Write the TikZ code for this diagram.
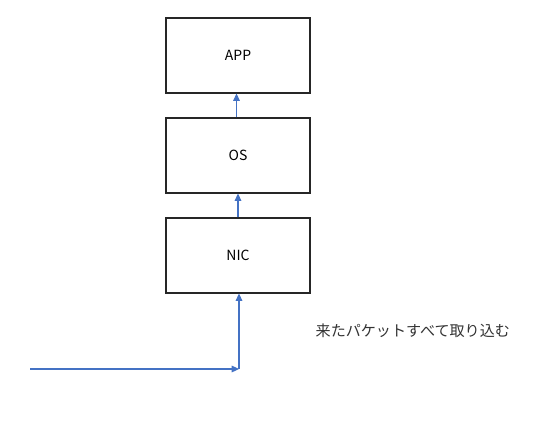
\documentclass[tikz,border=0pt]{standalone}
\usepackage{fontspec}
\setmainfont{Noto Sans CJK JP}
\usetikzlibrary{arrows.meta}
\definecolor{arrowblue}{HTML}{4472C4}
\begin{document}
\begin{tikzpicture}[x=0.75pt,y=-0.75pt,
  layerbox/.style={draw=black!85,line width=0.8pt,minimum width=108pt,minimum height=56.25pt,inner sep=0pt,font=\fontsize{10.5pt}{12pt}\selectfont},
  flow/.style={draw=arrowblue,line width=0.8pt,-{Triangle[length=5.5pt,width=5pt]}}]
\useasboundingbox (0,0) rectangle (559,424);
\node[layerbox] (app) at (238,55.5) {APP};
\node[layerbox] (os) at (238,155.5) {OS};
\node[layerbox] (nic) at (238,255.5) {NIC};
\coordinate (start) at (30,369);
\coordinate (corner) at (239,369);
\draw[flow] (os.north) ++(-1.5,0) coordinate (osn) -- (osn |- app.south);
\draw[flow] (nic.north) coordinate (nicn) -- (nicn |- os.south);
\draw[flow] (start) -- (corner);
\draw[flow] (corner) -- (corner |- nic.south);
\node[anchor=west,font=\fontsize{11.3pt}{13pt}\selectfont,text=black!80] (lbl) at (311,331) {来たパケットすべて取り込む};
\end{tikzpicture}
\end{document}
